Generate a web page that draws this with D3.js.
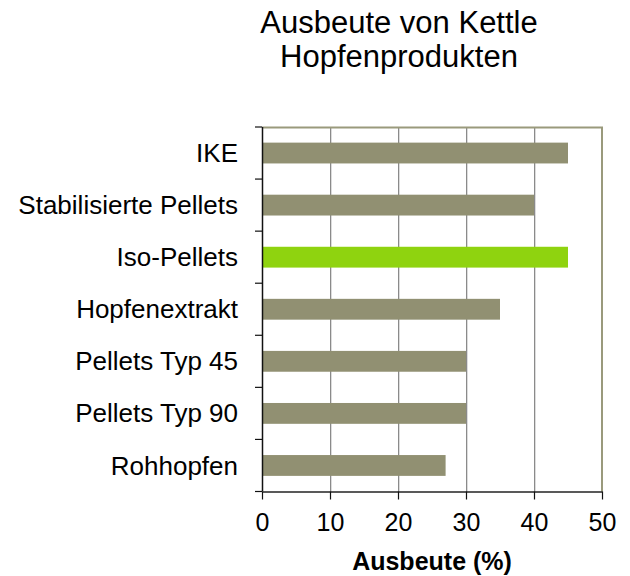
<!DOCTYPE html>
<html>
<head>
<meta charset="utf-8">
<script src="https://cdn.jsdelivr.net/npm/d3@7"></script>
<style>
  body { margin: 0; background: #fff; }
  text { font-family: "Liberation Sans", Arial, sans-serif; fill: #000; }
</style>
</head>
<body>
<div id="chart"></div>
<script>
// data
const categories = ['IKE', 'Stabilisierte Pellets', 'Iso-Pellets', 'Hopfenextrakt',
    'Pellets Typ 45', 'Pellets Typ 90', 'Rohhopfen'];
const yieldValues = [45, 40, 45, 35, 30, 30, 27];
const highlighted = ['Iso-Pellets'];
const xTicks = [0, 10, 20, 30, 40, 50];
const titleLines = ['Ausbeute von Kettle', 'Hopfenprodukten'];
const xTitle = 'Ausbeute (%)';

const width = 630, height = 576;
const margin = { top: 127, right: 28, bottom: 84, left: 262 };
const plotW = width - margin.left - margin.right;
const plotH = height - margin.top - margin.bottom - 0.5;

const svg = d3.select('#chart')
    .append('svg')
    .attr('width', width)
    .attr('height', height);

const g = svg.append('g')
    .attr('transform', `translate(${margin.left},${margin.top})`);

const x = d3.scaleLinear().domain([0, 50]).range([0, plotW]);
const y = d3.scaleBand().domain(categories).range([0, plotH]).paddingInner(0.6).paddingOuter(0.3);
const yEdges = d3.scaleBand().domain(categories).range([0, plotH]);

// gridlines (with the light shadow on the right)
g.selectAll('.grid-shadow')
    .data(xTicks.filter(t => t > 0 && t < 50))
    .enter().append('line')
    .attr('x1', d => x(d) + 1.5).attr('x2', d => x(d) + 1.5)
    .attr('y1', 0).attr('y2', plotH)
    .attr('stroke', '#dcdcdc').attr('stroke-width', 1);

g.selectAll('.grid')
    .data(xTicks.filter(t => t > 0 && t < 50))
    .enter().append('line')
    .attr('x1', d => x(d) + 0.5).attr('x2', d => x(d) + 0.5)
    .attr('y1', 0).attr('y2', plotH)
    .attr('stroke', '#8a8a8a').attr('stroke-width', 1);

// top and right border
g.append('path')
    .attr('d', `M0,0.5H${plotW}V${plotH}`)
    .attr('fill', 'none')
    .attr('stroke', '#9a9a7c')
    .attr('stroke-width', 2);

// bars
g.selectAll('.bar')
    .data(categories)
    .enter().append('rect')
    .attr('class', 'bar')
    .attr('x', 0)
    .attr('y', d => y(d))
    .attr('width', (d, i) => x(yieldValues[i]))
    .attr('height', y.bandwidth())
    .attr('fill', d => highlighted.includes(d) ? '#8fd30f' : '#919072');

// y axis: ticks on category boundaries
const yBounds = categories.map(c => yEdges(c)).concat([plotH]);
g.append('line')
    .attr('x1', 0.5).attr('x2', 0.5)
    .attr('y1', 0).attr('y2', plotH)
    .attr('stroke', '#111').attr('stroke-width', 1.5);
g.selectAll('.ytick')
    .data(yBounds)
    .enter().append('line')
    .attr('x1', -7).attr('x2', 0)
    .attr('y1', d => d).attr('y2', d => d)
    .attr('stroke', '#111').attr('stroke-width', 1.2);

g.selectAll('.ylabel')
    .data(categories)
    .enter().append('text')
    .attr('x', -24)
    .attr('y', d => y(d) + y.bandwidth() / 2)
    .attr('dy', '0.35em')
    .attr('text-anchor', 'end')
    .style('font-size', '26px')
    .text(d => d);

// x axis
const xAxis = g.append('g')
    .attr('transform', `translate(0,${plotH})`)
    .call(d3.axisBottom(x).tickValues(xTicks).tickSize(8).tickSizeOuter(0).tickPadding(14));
xAxis.select('.domain').attr('stroke', '#222').attr('stroke-width', 1.5);
xAxis.selectAll('.tick line').attr('stroke', '#111').attr('stroke-width', 1.2);
xAxis.selectAll('.tick text')
    .style('font-size', '25px')
    .style('font-family', '"Liberation Sans", Arial, sans-serif');

svg.append('text')
    .attr('x', margin.left + plotW / 2)
    .attr('y', 570)
    .attr('text-anchor', 'middle')
    .style('font-size', '25px')
    .style('font-weight', 'bold')
    .text(xTitle);

// title
svg.append('text')
    .attr('x', 399)
    .attr('y', 33)
    .attr('text-anchor', 'middle')
    .style('font-size', '31px')
    .selectAll('tspan')
    .data(titleLines)
    .enter().append('tspan')
    .attr('x', 399)
    .attr('dy', (d, i) => i === 0 ? 0 : 34)
    .text(d => d);
</script>
</body>
</html>
